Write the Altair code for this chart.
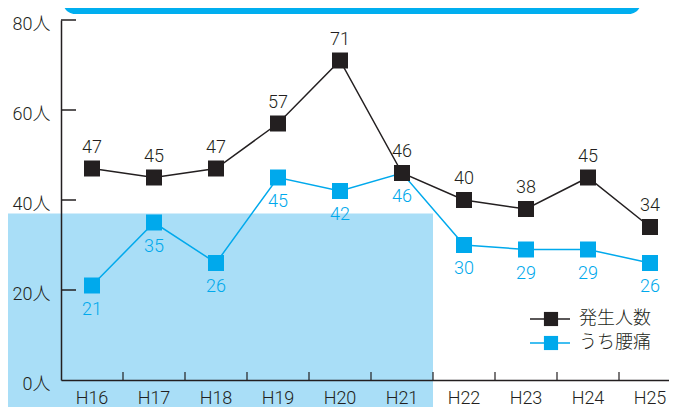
import altair as alt
import pandas as pd

years = ["H16", "H17", "H18", "H19", "H20", "H21", "H22", "H23", "H24", "H25"]
total = [47, 45, 47, 57, 71, 46, 40, 38, 45, 34]
backpain = [21, 35, 26, 45, 42, 46, 30, 29, 29, 26]
series_names = ["発生人数", "うち腰痛"]
series_colors = ["#231F20", "#00A9EC"]
y_ticks = [0, 20, 40, 60, 80]
shade_top = [37]

W, H = 608, 360
BAND = 62
FONT = "Roboto, 'Noto Sans CJK JP', sans-serif"
INK = "#231F20"

xscale = alt.Scale(domain=years, range=[0, BAND * len(years)], paddingInner=0, paddingOuter=0)
yscale = alt.Scale(domain=[0, 80], nice=False, zero=True)

X_AX = alt.Axis(title=None, ticks=False, tickSize=0, labelAngle=0, labelFont=FONT, labelFontSize=18,
                labelFontWeight=300, labelColor=INK, labelPadding=9, domainColor=INK, domainWidth=1.5,
                grid=False, zindex=1)
Y_AX = alt.Axis(title=None, values=y_ticks, labelExpr="datum.value + '人'", ticks=False, tickSize=0,
                labelFont=FONT, labelFontSize=18, labelFontWeight=300, labelColor=INK, labelPadding=11,
                labelOffset=4, labelOverlap=False, domainColor=INK, domainWidth=1.5, grid=False, zindex=1)


def X(field, **kw):
    return alt.X(field, scale=xscale, sort=years, axis=X_AX, title=None, **kw)


def Y(field):
    return alt.Y(field, scale=yscale, axis=Y_AX, title=None)


df_total = pd.DataFrame({"year": years, "value": total})
df_back = pd.DataFrame({"year": years, "value": backpain})

# background shading
shade = alt.Chart(pd.DataFrame({"value": shade_top})).mark_rect(color="#A9DEF7").encode(
    x=alt.value(-53), x2=alt.value(BAND * 6),
    y=Y("value:Q"), y2=alt.value(H + 60)
)

# top banner
banner = alt.Chart(pd.DataFrame({"v": [0]})).mark_rect(color="#00AEEF", cornerRadius=12).encode(
    x=alt.value(2), x2=alt.value(580), y=alt.value(-50), y2=alt.value(-6)
)

# inner y ticks
ytick_layer = alt.Chart(pd.DataFrame({"value": y_ticks[1:]})).mark_rule(color=INK, strokeWidth=1.5).encode(
    y=Y("value:Q"), x=alt.value(0), x2=alt.value(15)
)

# x ticks at band boundaries
xtick_layer = alt.Chart(pd.DataFrame({"year": years[1:]})).mark_rule(color=INK, strokeWidth=1.2).encode(
    x=X("year:N", bandPosition=0), y=alt.value(H), y2=alt.value(H - 8)
)


def series_layers(df, color, dy):
    base = alt.Chart(df).encode(x=X("year:N"), y=Y("value:Q"))
    line = base.mark_line(color=color, strokeWidth=1.5)
    pts = base.mark_square(color=color, size=256, opacity=1, filled=True)
    labels = base.mark_text(color=color, font=FONT, fontSize=18, fontWeight=300, dy=dy,
                            baseline="alphabetic").encode(text="value:Q")
    return line, pts, labels


bl, bp, bt = series_layers(df_back, series_colors[1], 29)
kl, kp, kt = series_layers(df_total, series_colors[0], -16)

# manual legend
legend_layers = []
for i, (name, col) in enumerate(zip(series_names, series_colors)):
    yy = 299 + 24 * i
    d = pd.DataFrame({"name": [name]})
    legend_layers.append(alt.Chart(d).mark_rule(color=col, strokeWidth=1.5).encode(
        x=alt.value(469), x2=alt.value(509), y=alt.value(yy)))
    legend_layers.append(alt.Chart(d).mark_square(color=col, size=200, opacity=1).encode(
        x=alt.value(490), y=alt.value(yy)))
    legend_layers.append(alt.Chart(d).mark_text(color=INK, font="'Noto Sans CJK JP', sans-serif",
                                                fontSize=18, fontWeight=300, align="left",
                                                baseline="middle").encode(
        x=alt.value(518), y=alt.value(yy), text="name:N"))

chart = alt.layer(
    shade, banner, ytick_layer, xtick_layer, bl, kl, bp, bt, kp, kt, *legend_layers
).properties(
    width=W, height=H,
    autosize=alt.AutoSizeParams(type="none"),
    padding={"left": 53, "top": 12, "right": 0, "bottom": 27},
).configure_view(stroke=None)

chart.save("out.html", embed_options={"renderer": "svg", "actions": False})
